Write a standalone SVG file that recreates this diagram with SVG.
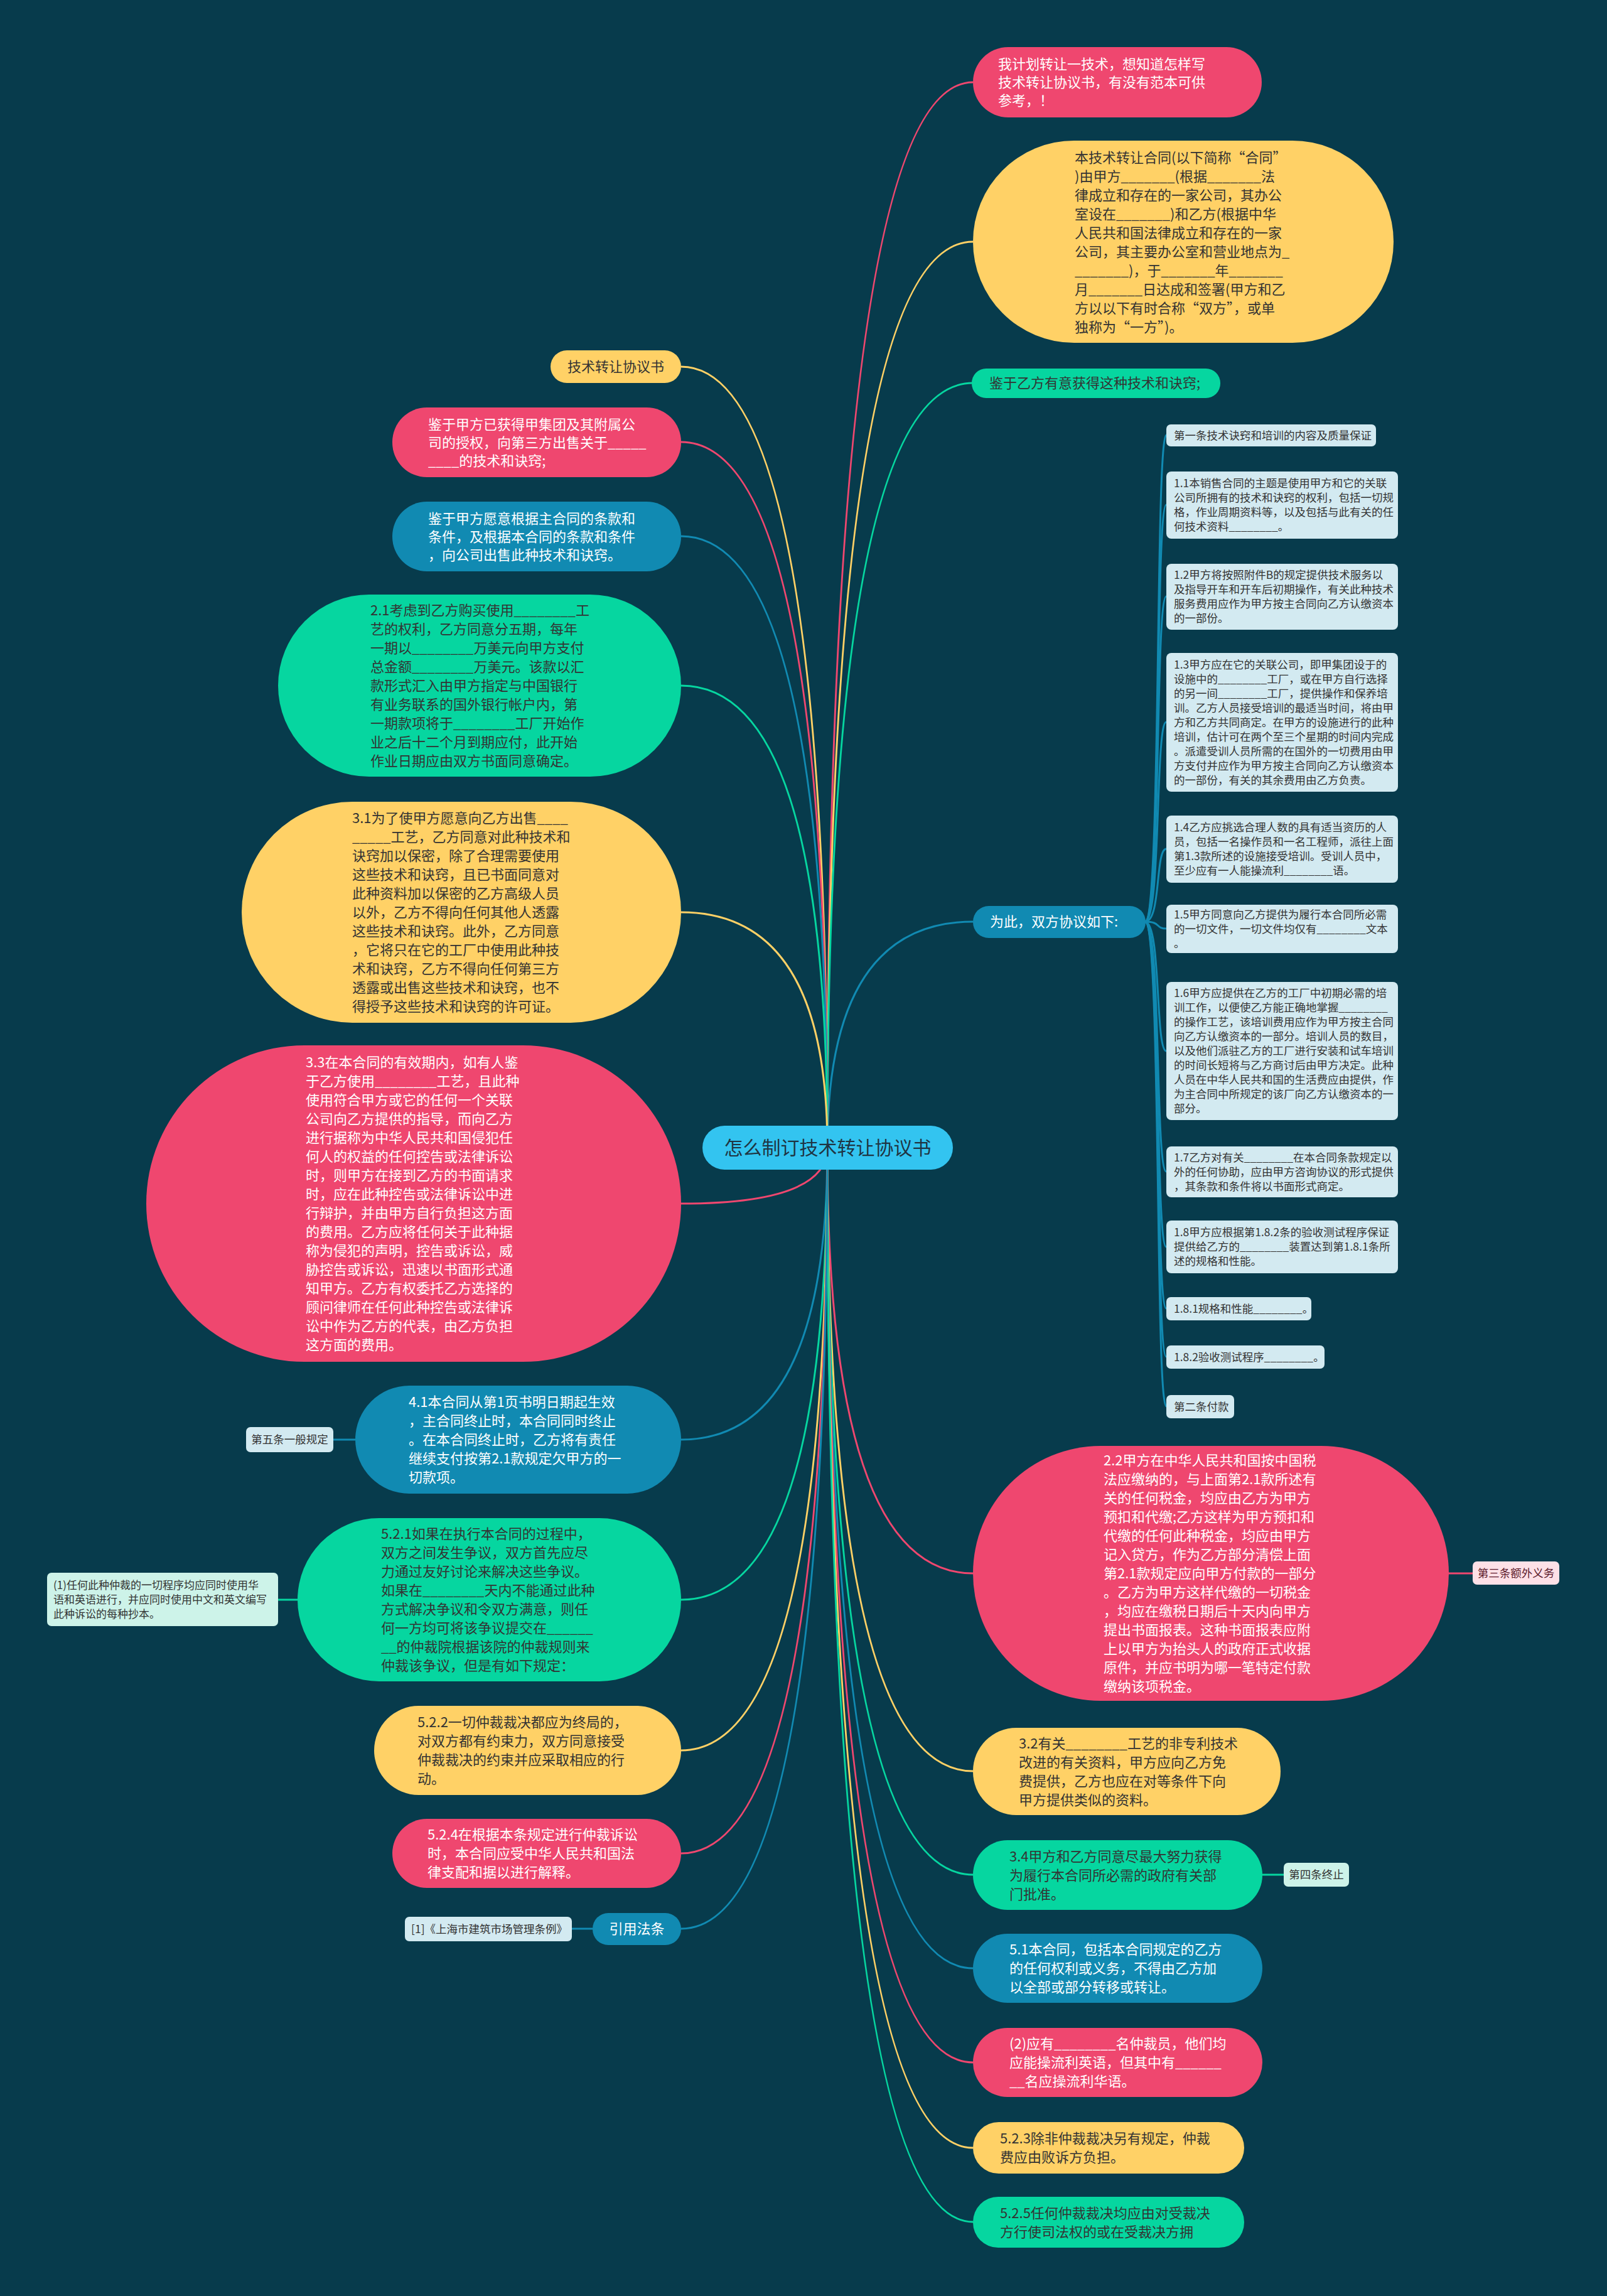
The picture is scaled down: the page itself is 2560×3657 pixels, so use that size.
<svg xmlns="http://www.w3.org/2000/svg" width="2560" height="3657" viewBox="0 0 2560 3657">
<style>
text{font-family:"Noto Sans CJK SC","Noto Sans",sans-serif}
.m{font-size:22px}
.s{font-size:17.5px}
.w{fill:#ffffff}
.d{fill:#333333}
.pk{fill:#ef476f}.yl{fill:#ffd166}.gr{fill:#06d6a0}.bl{fill:#118ab2}
.lb{fill:#d3eaf1}.lg{fill:#cdf3e9}.lp{fill:#fde0e7}
.c path{fill:none;stroke-width:3}
.cp{stroke:#ef476f}.cy{stroke:#ffd166}.cg{stroke:#06d6a0}.cb{stroke:#118ab2}
</style>
<rect width="2560" height="3657" fill="#073b4c"/>
<g id="connectors" class="c">
<path class="cp" d="M1318,1828 Q1318,131 1550,131"/>
<path class="cy" d="M1318,1828 Q1318,385 1550,385"/>
<path class="cg" d="M1318,1828 Q1318,610 1550,610"/>
<path class="cb" d="M1318,1828 Q1318,1468 1550,1468"/>
<path class="cp" d="M1318,1828 Q1318,2506 1550,2506"/>
<path class="cy" d="M1318,1828 Q1318,2821 1550,2821"/>
<path class="cg" d="M1318,1828 Q1318,2986 1550,2986"/>
<path class="cb" d="M1318,1828 Q1318,3135 1550,3135"/>
<path class="cp" d="M1318,1828 Q1318,3285 1550,3285"/>
<path class="cy" d="M1318,1828 Q1318,3421 1550,3421"/>
<path class="cg" d="M1318,1828 Q1318,3539 1550,3539"/>
<path class="cy" d="M1318,1828 Q1318,584 1085,584"/>
<path class="cp" d="M1318,1828 Q1318,704 1085,704"/>
<path class="cb" d="M1318,1828 Q1318,854 1085,854"/>
<path class="cg" d="M1318,1828 Q1318,1092 1085,1092"/>
<path class="cy" d="M1318,1828 Q1318,1453 1085,1453"/>
<path class="cp" d="M1318,1828 Q1318,1917 1085,1917"/>
<path class="cb" d="M1318,1828 Q1318,2293 1085,2293"/>
<path class="cg" d="M1318,1828 Q1318,2548 1085,2548"/>
<path class="cy" d="M1318,1828 Q1318,2788 1085,2788"/>
<path class="cp" d="M1318,1828 Q1318,2952 1085,2952"/>
<path class="cb" d="M1318,1828 Q1318,3072 1085,3072"/>
<path class="cb" d="M1824,1468 C1850,1468 1840,693 1858,693"/>
<path class="cb" d="M1824,1468 C1850,1468 1840,804 1858,804"/>
<path class="cb" d="M1824,1468 C1850,1468 1840,950 1858,950"/>
<path class="cb" d="M1824,1468 C1850,1468 1840,1150 1858,1150"/>
<path class="cb" d="M1824,1468 C1850,1468 1840,1352 1858,1352"/>
<path class="cb" d="M1824,1468 C1850,1468 1840,1479 1858,1479"/>
<path class="cb" d="M1824,1468 C1850,1468 1840,1674 1858,1674"/>
<path class="cb" d="M1824,1468 C1850,1468 1840,1866 1858,1866"/>
<path class="cb" d="M1824,1468 C1850,1468 1840,1986 1858,1986"/>
<path class="cb" d="M1824,1468 C1850,1468 1840,2084 1858,2084"/>
<path class="cb" d="M1824,1468 C1850,1468 1840,2161 1858,2161"/>
<path class="cb" d="M1824,1468 C1850,1468 1840,2240 1858,2240"/>
<path class="cp" d="M2308,2506 L2346,2506"/>
<path class="cg" d="M2010,2986 L2045,2986"/>
<path class="cb" d="M566,2293 L531,2293"/>
<path class="cg" d="M474,2548 L443,2548"/>
<path class="cb" d="M944,3072 L911,3072"/>
</g>
<g id="center">
<rect x="1119" y="1793" width="399" height="70" rx="35" fill="#33c4f0"/>
<text x="1318.5" y="1839" text-anchor="middle" font-size="30" fill="#1f3442">怎么制订技术转让协议书</text>
</g>
<g id="r1">
<rect class="pk" x="1550" y="75" width="460" height="112" rx="56"/>
<text class="m w"><tspan x="1590" y="110">我计划转让一技术，想知道怎样写</tspan><tspan x="1590" y="139">技术转让协议书，有没有范本可供</tspan><tspan x="1590" y="168">参考，！</tspan></text>
</g>
<g id="r2">
<rect class="yl" x="1550" y="224" width="670" height="322" rx="161"/>
<text class="m d"><tspan x="1712" y="259">本技术转让合同(以下简称“合同”</tspan><tspan x="1712" y="289">)由甲方_______(根据_______法</tspan><tspan x="1712" y="319">律成立和存在的一家公司，其办公</tspan><tspan x="1712" y="349">室设在_______)和乙方(根据中华</tspan><tspan x="1712" y="379">人民共和国法律成立和存在的一家</tspan><tspan x="1712" y="409">公司，其主要办公室和营业地点为_</tspan><tspan x="1712" y="439">_______)，于_______年_______</tspan><tspan x="1712" y="469">月_______日达成和签署(甲方和乙</tspan><tspan x="1712" y="499">方以以下有时合称“双方”，或单</tspan><tspan x="1712" y="529">独称为“一方”)。</tspan></text>
</g>
<g id="r3">
<rect class="gr" x="1548" y="587" width="396" height="47" rx="23"/>
<text class="m d" x="1576" y="618">鉴于乙方有意获得这种技术和诀窍;</text>
</g>
<g id="r4">
<rect class="bl" x="1550" y="1443" width="275" height="51" rx="25"/>
<text class="m w" x="1577" y="1476">为此，双方协议如下:</text>
</g>
<g id="d0">
<rect class="lb" x="1858" y="676" width="334" height="35" rx="7"/>
<text class="s d" x="1870" y="699.5">第一条技术诀窍和培训的内容及质量保证</text>
</g>
<g id="d11">
<rect class="lb" x="1858" y="751" width="369" height="107" rx="8"/>
<text class="s d"><tspan x="1870" y="776">1.1本销售合同的主题是使用甲方和它的关联</tspan><tspan x="1870" y="799">公司所拥有的技术和诀窍的权利，包括一切规</tspan><tspan x="1870" y="822">格，作业周期资料等，以及包括与此有关的任</tspan><tspan x="1870" y="845">何技术资料________。</tspan></text>
</g>
<g id="d12">
<rect class="lb" x="1858" y="898" width="369" height="105" rx="8"/>
<text class="s d"><tspan x="1870" y="922">1.2甲方将按照附件B的规定提供技术服务以</tspan><tspan x="1870" y="945">及指导开车和开车后初期操作，有关此种技术</tspan><tspan x="1870" y="968">服务费用应作为甲方按主合同向乙方认缴资本</tspan><tspan x="1870" y="991">的一部份。</tspan></text>
</g>
<g id="d13">
<rect class="lb" x="1858" y="1040" width="369" height="221" rx="8"/>
<text class="s d"><tspan x="1870" y="1064.5">1.3甲方应在它的关联公司，即甲集团设于的</tspan><tspan x="1870" y="1087.5">设施中的________工厂，或在甲方自行选择</tspan><tspan x="1870" y="1110.5">的另一间________工厂，提供操作和保养培</tspan><tspan x="1870" y="1133.5">训。乙方人员接受培训的最适当时间，将由甲</tspan><tspan x="1870" y="1156.5">方和乙方共同商定。在甲方的设施进行的此种</tspan><tspan x="1870" y="1179.5">培训，估计可在两个至三个星期的时间内完成</tspan><tspan x="1870" y="1202.5">。派遣受训人员所需的在国外的一切费用由甲</tspan><tspan x="1870" y="1225.5">方支付并应作为甲方按主合同向乙方认缴资本</tspan><tspan x="1870" y="1248.5">的一部份，有关的其余费用由乙方负责。</tspan></text>
</g>
<g id="d14">
<rect class="lb" x="1858" y="1299" width="369" height="107" rx="8"/>
<text class="s d"><tspan x="1870" y="1324">1.4乙方应挑选合理人数的具有适当资历的人</tspan><tspan x="1870" y="1347">员，包括一名操作员和一名工程师，派往上面</tspan><tspan x="1870" y="1370">第1.3款所述的设施接受培训。受训人员中，</tspan><tspan x="1870" y="1393">至少应有一人能操流利________语。</tspan></text>
</g>
<g id="d15">
<rect class="lb" x="1858" y="1441" width="369" height="77" rx="8"/>
<text class="s d"><tspan x="1870" y="1462.5">1.5甲方同意向乙方提供为履行本合同所必需</tspan><tspan x="1870" y="1485.5">的一切文件，一切文件均仅有________文本</tspan><tspan x="1870" y="1508.5">。</tspan></text>
</g>
<g id="d16">
<rect class="lb" x="1858" y="1564" width="369" height="220" rx="8"/>
<text class="s d"><tspan x="1870" y="1588">1.6甲方应提供在乙方的工厂中初期必需的培</tspan><tspan x="1870" y="1611">训工作，以便使乙方能正确地掌握________</tspan><tspan x="1870" y="1634">的操作工艺，该培训费用应作为甲方按主合同</tspan><tspan x="1870" y="1657">向乙方认缴资本的一部分。培训人员的数目，</tspan><tspan x="1870" y="1680">以及他们派驻乙方的工厂进行安装和试车培训</tspan><tspan x="1870" y="1703">的时间长短将与乙方商讨后由甲方决定。此种</tspan><tspan x="1870" y="1726">人员在中华人民共和国的生活费应由提供，作</tspan><tspan x="1870" y="1749">为主合同中所规定的该厂向乙方认缴资本的一</tspan><tspan x="1870" y="1772">部分。</tspan></text>
</g>
<g id="d17">
<rect class="lb" x="1858" y="1826" width="369" height="81" rx="8"/>
<text class="s d"><tspan x="1870" y="1849.5">1.7乙方对有关________在本合同条款规定以</tspan><tspan x="1870" y="1872.5">外的任何协助，应由甲方咨询协议的形式提供</tspan><tspan x="1870" y="1895.5">，其条款和条件将以书面形式商定。</tspan></text>
</g>
<g id="d18">
<rect class="lb" x="1858" y="1944" width="369" height="84" rx="8"/>
<text class="s d"><tspan x="1870" y="1969">1.8甲方应根据第1.8.2条的验收测试程序保证</tspan><tspan x="1870" y="1992">提供给乙方的________装置达到第1.8.1条所</tspan><tspan x="1870" y="2015">述的规格和性能。</tspan></text>
</g>
<g id="d181">
<rect class="lb" x="1858" y="2066" width="231" height="37" rx="7"/>
<text class="s d" x="1870" y="2090.5">1.8.1规格和性能________。</text>
</g>
<g id="d182">
<rect class="lb" x="1858" y="2143" width="252" height="37" rx="7"/>
<text class="s d" x="1870" y="2167.5">1.8.2验收测试程序________。</text>
</g>
<g id="d2">
<rect class="lb" x="1858" y="2222" width="108" height="37" rx="7"/>
<text class="s d" x="1870" y="2246.5">第二条付款</text>
</g>
<g id="r5">
<rect class="pk" x="1550" y="2303" width="758" height="406" rx="203"/>
<text class="m w"><tspan x="1758" y="2334">2.2甲方在中华人民共和国按中国税</tspan><tspan x="1758" y="2364">法应缴纳的，与上面第2.1款所述有</tspan><tspan x="1758" y="2394">关的任何税金，均应由乙方为甲方</tspan><tspan x="1758" y="2424">预扣和代缴;乙方这样为甲方预扣和</tspan><tspan x="1758" y="2454">代缴的任何此种税金，均应由甲方</tspan><tspan x="1758" y="2484">记入贷方，作为乙方部分清偿上面</tspan><tspan x="1758" y="2514">第2.1款规定应向甲方付款的一部分</tspan><tspan x="1758" y="2544">。乙方为甲方这样代缴的一切税金</tspan><tspan x="1758" y="2574">，均应在缴税日期后十天内向甲方</tspan><tspan x="1758" y="2604">提出书面报表。这种书面报表应附</tspan><tspan x="1758" y="2634">上以甲方为抬头人的政府正式收据</tspan><tspan x="1758" y="2664">原件，并应书明为哪一笔特定付款</tspan><tspan x="1758" y="2694">缴纳该项税金。</tspan></text>
</g>
<g id="n3">
<rect class="lp" x="2346" y="2487" width="138" height="37" rx="7"/>
<text class="s" x="2415" y="2512" text-anchor="middle" fill="#5c1a2b">第三条额外义务</text>
</g>
<g id="r6">
<rect class="yl" x="1550" y="2752" width="490" height="139" rx="69"/>
<text class="m d"><tspan x="1623" y="2784.5">3.2有关________工艺的非专利技术</tspan><tspan x="1623" y="2814.5">改进的有关资料，甲方应向乙方免</tspan><tspan x="1623" y="2844.5">费提供，乙方也应在对等条件下向</tspan><tspan x="1623" y="2874.5">甲方提供类似的资料。</tspan></text>
</g>
<g id="r7">
<rect class="gr" x="1550" y="2931" width="461" height="111" rx="55"/>
<text class="m d"><tspan x="1608" y="2964.5">3.4甲方和乙方同意尽最大努力获得</tspan><tspan x="1608" y="2994.5">为履行本合同所必需的政府有关部</tspan><tspan x="1608" y="3024.5">门批准。</tspan></text>
</g>
<g id="n4">
<rect class="lg" x="2045" y="2967" width="104" height="38" rx="7"/>
<text class="s d" x="2097" y="2992" text-anchor="middle">第四条终止</text>
</g>
<g id="r8">
<rect class="bl" x="1550" y="3080" width="461" height="110" rx="55"/>
<text class="m w"><tspan x="1608" y="3113">5.1本合同，包括本合同规定的乙方</tspan><tspan x="1608" y="3143">的任何权利或义务，不得由乙方加</tspan><tspan x="1608" y="3173">以全部或部分转移或转让。</tspan></text>
</g>
<g id="r9">
<rect class="pk" x="1550" y="3230" width="461" height="110" rx="55"/>
<text class="m w"><tspan x="1608" y="3263">(2)应有________名仲裁员，他们均</tspan><tspan x="1608" y="3293">应能操流利英语，但其中有______</tspan><tspan x="1608" y="3323">__名应操流利华语。</tspan></text>
</g>
<g id="r10">
<rect class="yl" x="1550" y="3380" width="432" height="82" rx="41"/>
<text class="m d"><tspan x="1593" y="3414">5.2.3除非仲裁裁决另有规定，仲裁</tspan><tspan x="1593" y="3444">费应由败诉方负担。</tspan></text>
</g>
<g id="r11">
<rect class="gr" x="1550" y="3499" width="432" height="81" rx="40"/>
<text class="m d"><tspan x="1593" y="3532.5">5.2.5任何仲裁裁决均应由对受裁决</tspan><tspan x="1593" y="3562.5">方行使司法权的或在受裁决方拥</tspan></text>
</g>
<g id="l1">
<rect class="yl" x="877" y="558" width="208" height="52" rx="26"/>
<text x="981" y="592" text-anchor="middle" class="m d">技术转让协议书</text>
</g>
<g id="l2">
<rect class="pk" x="625" y="649" width="460" height="111" rx="55"/>
<text class="m w"><tspan x="682" y="683.5">鉴于甲方已获得甲集团及其附属公</tspan><tspan x="682" y="712.5">司的授权，向第三方出售关于_____</tspan><tspan x="682" y="741.5">____的技术和诀窍;</tspan></text>
</g>
<g id="l3">
<rect class="bl" x="625" y="799" width="460" height="111" rx="55"/>
<text class="m w"><tspan x="682" y="833.5">鉴于甲方愿意根据主合同的条款和</tspan><tspan x="682" y="862.5">条件，及根据本合同的条款和条件</tspan><tspan x="682" y="891.5">，向公司出售此种技术和诀窍。</tspan></text>
</g>
<g id="l4">
<rect class="gr" x="443" y="947" width="642" height="290" rx="145"/>
<text class="m d"><tspan x="590" y="980">2.1考虑到乙方购买使用________工</tspan><tspan x="590" y="1010">艺的权利，乙方同意分五期，每年</tspan><tspan x="590" y="1040">一期以________万美元向甲方支付</tspan><tspan x="590" y="1070">总金额________万美元。该款以汇</tspan><tspan x="590" y="1100">款形式汇入由甲方指定与中国银行</tspan><tspan x="590" y="1130">有业务联系的国外银行帐户内，第</tspan><tspan x="590" y="1160">一期款项将于________工厂开始作</tspan><tspan x="590" y="1190">业之后十二个月到期应付，此开始</tspan><tspan x="590" y="1220">作业日期应由双方书面同意确定。</tspan></text>
</g>
<g id="l5">
<rect class="yl" x="385" y="1277" width="700" height="352" rx="176"/>
<text class="m d"><tspan x="561" y="1311">3.1为了使甲方愿意向乙方出售____</tspan><tspan x="561" y="1341">_____工艺，乙方同意对此种技术和</tspan><tspan x="561" y="1371">诀窍加以保密，除了合理需要使用</tspan><tspan x="561" y="1401">这些技术和诀窍，且已书面同意对</tspan><tspan x="561" y="1431">此种资料加以保密的乙方高级人员</tspan><tspan x="561" y="1461">以外，乙方不得向任何其他人透露</tspan><tspan x="561" y="1491">这些技术和诀窍。此外，乙方同意</tspan><tspan x="561" y="1521">，它将只在它的工厂中使用此种技</tspan><tspan x="561" y="1551">术和诀窍，乙方不得向任何第三方</tspan><tspan x="561" y="1581">透露或出售这些技术和诀窍，也不</tspan><tspan x="561" y="1611">得授予这些技术和诀窍的许可证。</tspan></text>
</g>
<g id="l6">
<rect class="pk" x="233" y="1665" width="852" height="504" rx="252"/>
<text class="m w"><tspan x="487" y="1700">3.3在本合同的有效期内，如有人鉴</tspan><tspan x="487" y="1730">于乙方使用________工艺，且此种</tspan><tspan x="487" y="1760">使用符合甲方或它的任何一个关联</tspan><tspan x="487" y="1790">公司向乙方提供的指导，而向乙方</tspan><tspan x="487" y="1820">进行据称为中华人民共和国侵犯任</tspan><tspan x="487" y="1850">何人的权益的任何控告或法律诉讼</tspan><tspan x="487" y="1880">时，则甲方在接到乙方的书面请求</tspan><tspan x="487" y="1910">时，应在此种控告或法律诉讼中进</tspan><tspan x="487" y="1940">行辩护，并由甲方自行负担这方面</tspan><tspan x="487" y="1970">的费用。乙方应将任何关于此种据</tspan><tspan x="487" y="2000">称为侵犯的声明，控告或诉讼，威</tspan><tspan x="487" y="2030">胁控告或诉讼，迅速以书面形式通</tspan><tspan x="487" y="2060">知甲方。乙方有权委托乙方选择的</tspan><tspan x="487" y="2090">顾问律师在任何此种控告或法律诉</tspan><tspan x="487" y="2120">讼中作为乙方的代表，由乙方负担</tspan><tspan x="487" y="2150">这方面的费用。</tspan></text>
</g>
<g id="l7">
<rect class="bl" x="566" y="2207" width="519" height="172" rx="86"/>
<text class="m w"><tspan x="651" y="2241">4.1本合同从第1页书明日期起生效</tspan><tspan x="651" y="2271">，主合同终止时，本合同同时终止</tspan><tspan x="651" y="2301">。在本合同终止时，乙方将有责任</tspan><tspan x="651" y="2331">继续支付按第2.1款规定欠甲方的一</tspan><tspan x="651" y="2361">切款项。</tspan></text>
</g>
<g id="n5">
<rect class="lb" x="392" y="2273" width="139" height="40" rx="7"/>
<text class="s d" x="461.5" y="2299" text-anchor="middle">第五条一般规定</text>
</g>
<g id="l8">
<rect class="gr" x="474" y="2418" width="611" height="260" rx="130"/>
<text class="m d"><tspan x="607" y="2451">5.2.1如果在执行本合同的过程中，</tspan><tspan x="607" y="2481">双方之间发生争议，双方首先应尽</tspan><tspan x="607" y="2511">力通过友好讨论来解决这些争议。</tspan><tspan x="607" y="2541">如果在________天内不能通过此种</tspan><tspan x="607" y="2571">方式解决争议和令双方满意，则任</tspan><tspan x="607" y="2601">何一方均可将该争议提交在______</tspan><tspan x="607" y="2631">__的仲裁院根据该院的仲裁规则来</tspan><tspan x="607" y="2661">仲裁该争议，但是有如下规定：</tspan></text>
</g>
<g id="n1">
<rect class="lg" x="75" y="2505" width="368" height="85" rx="7"/>
<text class="d" font-size="17"><tspan x="85" y="2530.5">(1)任何此种仲裁的一切程序均应同时使用华</tspan><tspan x="85" y="2553.5">语和英语进行，并应同时使用中文和英文编写</tspan><tspan x="85" y="2576.5">此种诉讼的每种抄本。</tspan></text>
</g>
<g id="l9">
<rect class="yl" x="596" y="2717" width="489" height="142" rx="71"/>
<text class="m d"><tspan x="665" y="2751">5.2.2一切仲裁裁决都应为终局的，</tspan><tspan x="665" y="2781">对双方都有约束力，双方同意接受</tspan><tspan x="665" y="2811">仲裁裁决的约束并应采取相应的行</tspan><tspan x="665" y="2841">动。</tspan></text>
</g>
<g id="l10">
<rect class="pk" x="625" y="2897" width="460" height="110" rx="55"/>
<text class="m w"><tspan x="681" y="2930">5.2.4在根据本条规定进行仲裁诉讼</tspan><tspan x="681" y="2960">时，本合同应受中华人民共和国法</tspan><tspan x="681" y="2990">律支配和据以进行解释。</tspan></text>
</g>
<g id="l11">
<rect class="bl" x="944" y="3047" width="141" height="51" rx="25"/>
<text x="1014.5" y="3080" text-anchor="middle" class="m w">引用法条</text>
</g>
<g id="ref1">
<rect class="lb" x="645" y="3053" width="266" height="39" rx="7"/>
<text class="s d" x="655" y="3078.5">[1]《上海市建筑市场管理条例》</text>
</g>
</svg>
